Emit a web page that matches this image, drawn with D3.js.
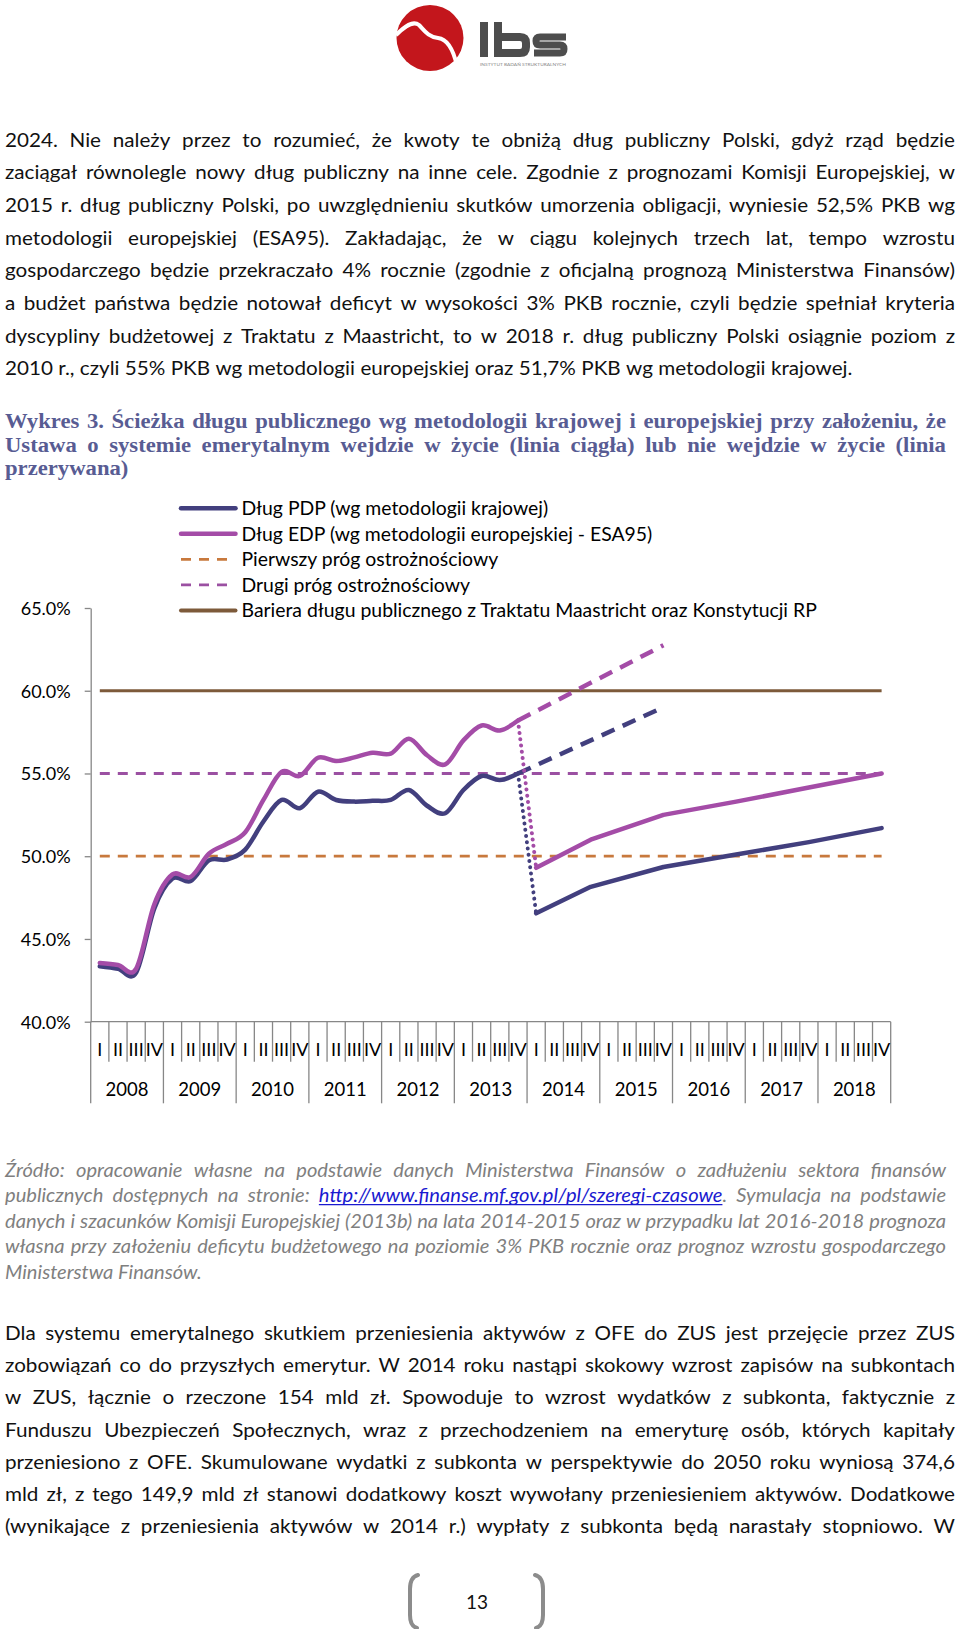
<!DOCTYPE html>
<html>
<head>
<meta charset="utf-8">
<script src="https://cdn.jsdelivr.net/npm/d3@7"></script>
<style>
  html, body { margin: 0; padding: 0; background: #fff; }
  svg { display: block; }
</style>
</head>
<body>
<script>
// ---------------- DATA ----------------
const years = [2008, 2009, 2010, 2011, 2012, 2013, 2014, 2015, 2016, 2017, 2018];
const quarterLabels = ["I", "II", "III", "IV"];
const quarters = years.flatMap(y => quarterLabels.map(q => y + " " + q));

// historical debt (2008 I – 2013 IV), % of GDP
const historyQuarters = quarters.slice(0, 24);
const pdpHistory = [43.35, 43.2, 42.97, 46.85, 48.65, 48.5, 49.75, 49.8, 50.4, 52.1, 53.4, 52.9,
                    53.9, 53.4, 53.3, 53.35, 53.4, 54.0, 53.05, 52.6, 54.0, 54.85, 54.6, 55.0];
const edpHistory = [43.55, 43.43, 43.2, 47.1, 48.9, 48.75, 50.15, 50.75, 51.45, 53.4, 55.1, 54.85,
                    55.95, 55.75, 55.97, 56.25, 56.2, 57.1, 56.1, 55.55, 57.0, 57.9, 57.6, 58.2];

// scenario: the law enters into force (solid lines)
const reformQuarters = ["2014 I", "2014 IV", "2015 IV", "2016 IV", "2017 IV", "2018 IV"];
const pdpReform = [46.55, 48.15, 49.35, 50.1, 50.85, 51.7];
const edpReform = [49.3, 51.0, 52.5, 53.3, 54.15, 55.0];

// scenario: the law does not enter into force (dashed lines)
const noReformQuarters = ["2013 IV", "2015 IV"];
const pdpNoReform = [55.0, 59.0];
const edpNoReform = [58.2, 62.75];

// thresholds
const firstThreshold = 50;
const secondThreshold = 55;
const debtBarrier = 60;

const yTicks = [40, 45, 50, 55, 60, 65];

const legendLabels = [
  "Dług PDP (wg metodologii krajowej)",
  "Dług EDP (wg metodologii europejskiej - ESA95)",
  "Pierwszy próg ostrożnościowy",
  "Drugi próg ostrożnościowy",
  "Bariera długu publicznego z Traktatu Maastricht oraz Konstytucji RP"
];

// ---------------- PAGE TEXT ----------------
const paragraph1 = [
  "2024. Nie należy przez to rozumieć, że kwoty te obniżą dług publiczny Polski, gdyż rząd będzie",
  "zaciągał równolegle nowy dług publiczny na inne cele. Zgodnie z prognozami Komisji Europejskiej, w",
  "2015 r. dług publiczny Polski, po uwzględnieniu skutków umorzenia obligacji, wyniesie 52,5% PKB wg",
  "metodologii europejskiej (ESA95). Zakładając, że w ciągu kolejnych trzech lat, tempo wzrostu",
  "gospodarczego będzie przekraczało 4% rocznie (zgodnie z oficjalną prognozą Ministerstwa Finansów)",
  "a budżet państwa będzie notował deficyt w wysokości 3% PKB rocznie, czyli będzie spełniał kryteria",
  "dyscypliny budżetowej z Traktatu z Maastricht, to w 2018 r. dług publiczny Polski osiągnie poziom z",
  "2010 r., czyli 55% PKB wg metodologii europejskiej oraz 51,7% PKB wg metodologii krajowej."
];
const titleLines = [
  "Wykres 3. Ścieżka długu publicznego wg metodologii krajowej i europejskiej przy założeniu, że",
  "Ustawa o systemie emerytalnym wejdzie w życie (linia ciągła) lub nie wejdzie w życie (linia",
  "przerywana)"
];
const sourceLines = [
  "Źródło: opracowanie własne na podstawie danych Ministerstwa Finansów o zadłużeniu sektora finansów",
  "publicznych dostępnych na stronie: @LINK@. Symulacja na podstawie",
  "danych i szacunków Komisji Europejskiej (2013b) na lata 2014-2015 oraz w przypadku lat 2016-2018 prognoza",
  "własna przy założeniu deficytu budżetowego na poziomie 3% PKB rocznie oraz prognoz wzrostu gospodarczego",
  "Ministerstwa Finansów."
];
const sourceLink = "http://www.finanse.mf.gov.pl/pl/szeregi-czasowe";
const paragraph2 = [
  "Dla systemu emerytalnego skutkiem przeniesienia aktywów z OFE do ZUS jest przejęcie przez ZUS",
  "zobowiązań co do przyszłych emerytur. W 2014 roku nastąpi skokowy wzrost zapisów na subkontach",
  "w ZUS, łącznie o rzeczone 154 mld zł. Spowoduje to wzrost wydatków z subkonta, faktycznie z",
  "Funduszu Ubezpieczeń Społecznych, wraz z przechodzeniem na emeryturę osób, których kapitały",
  "przeniesiono z OFE. Skumulowane wydatki z subkonta w perspektywie do 2050 roku wyniosą 374,6",
  "mld zł, z tego 149,9 mld zł stanowi dodatkowy koszt wywołany przeniesieniem aktywów. Dodatkowe",
  "(wynikające z przeniesienia aktywów w 2014 r.) wypłaty z subkonta będą narastały stopniowo. W"
];
const pageNumber = "13";

// ---------------- DRAWING ----------------
const W = 960, H = 1629;
const SANS = "Lato, 'Noto Sans', 'DejaVu Sans', sans-serif";
const SERIF = "'Liberation Serif', 'DejaVu Serif', serif";

const svg = d3.select("body").append("svg")
  .attr("width", W).attr("height", H)
  .attr("viewBox", `0 0 ${W} ${H}`);

svg.append("rect").attr("width", W).attr("height", H).attr("fill", "#fff");

// text block with word justification
function textBlock(parent, lines, o) {
  const g = parent.append("g");
  const setFont = sel => sel
    .attr("font-family", o.family)
    .attr("font-size", o.size)
    .attr("font-weight", o.weight || "normal")
    .attr("font-style", o.style || "normal")
    .attr("fill", o.fill);
  const tmp = g.append("text").call(setFont).style("white-space", "pre");
  tmp.text("n n"); const a = tmp.node().getComputedTextLength();
  tmp.text("nn"); const b = tmp.node().getComputedTextLength();
  tmp.remove();
  const sp = a - b;

  const built = lines.map((ln, i) => {
    const lg = g.append("g");
    const t = lg.append("text").call(setFont);
    const words = ln.split(" ").map(w => {
      let segs;
      if (w === "@LINK@.") segs = [{ t: o.link, link: true }, { t: "." }];
      else if (w === "@LINK@") segs = [{ t: o.link, link: true }];
      else segs = [{ t: w }];
      const spans = segs.map(s => {
        const tsp = t.append("tspan").text(s.t);
        if (s.link) tsp.attr("fill", o.linkFill);
        return tsp;
      });
      const widths = spans.map(s => s.node().getComputedTextLength());
      return { segs, spans, widths, w: d3.sum(widths) };
    });
    const sum = d3.sum(words, d => d.w);
    const natural = sum + sp * (words.length - 1);
    const justify = o.justify(i, lines.length);
    return { lg, t, words, sum, natural, justify, i };
  });

  let sx = d3.min(built.filter(d => d.justify), d => o.width / d.natural);
  if (sx === undefined) sx = 1;
  sx = Math.max(0.85, Math.min(o.maxScale || 1.06, sx));
  built.forEach(d => {
    if (d.natural * sx > o.width) sx = o.width / d.natural;
  });

  built.forEach(d => {
    const y = o.y0 + d.i * o.dy;
    d.lg.attr("transform", `translate(${o.x},${y}) scale(${sx},1)`);
    const Wl = o.width / sx;
    const gap = d.justify && d.words.length > 1 ? (Wl - d.sum) / (d.words.length - 1) : sp;
    let cur = 0;
    d.words.forEach(w => {
      w.spans[0].attr("x", cur);
      let off = cur;
      w.segs.forEach((s, k) => {
        if (s.link) {
          d.lg.append("line")
            .attr("x1", off).attr("x2", off + w.widths[k])
            .attr("y1", o.size * 0.14).attr("y2", o.size * 0.14)
            .attr("stroke", o.linkFill).attr("stroke-width", 1.2);
        }
        off += w.widths[k];
      });
      cur += w.w + gap;
    });
  });
  return g;
}

// ---- logo ----
const logo = svg.append("g").attr("class", "logo");
logo.append("ellipse").attr("cx", 430).attr("cy", 38).attr("rx", 33.5).attr("ry", 33)
  .attr("fill", "#c3161c");
logo.append("path")
  .attr("d", "M396,35 C405,26 413,20 419,25 C424,30 428,37 438,38 C447,39 453,48 457,66")
  .attr("fill", "none").attr("stroke", "#fff").attr("stroke-width", 4);
const lc = "#4d4d4d";
logo.append("rect").attr("x", 480).attr("y", 22).attr("width", 8).attr("height", 35).attr("fill", lc);
logo.append("rect").attr("x", 494).attr("y", 22).attr("width", 8).attr("height", 35).attr("fill", lc);
logo.append("path").attr("d", "M498,37 H520 Q526,37 526,43 V47 Q526,53 520,53 H498")
  .attr("fill", "none").attr("stroke", lc).attr("stroke-width", 8);
logo.append("path").attr("d", "M566,37 H540 Q536,37 536,41 Q536,45 540,45 H560 Q564,45 564,49 Q564,53 560,53 H534")
  .attr("fill", "none").attr("stroke", lc).attr("stroke-width", 7);
logo.append("text").attr("x", 480).attr("y", 66).attr("font-family", SANS).attr("font-size", 4.5)
  .attr("fill", "#888").attr("textLength", 86).attr("lengthAdjust", "spacingAndGlyphs")
  .text("INSTYTUT BADAŃ STRUKTURALNYCH");

// ---- paragraph 1 ----
textBlock(svg, paragraph1, {
  x: 5, y0: 146.5, dy: 32.7, width: 950, family: SANS, size: 19.5, fill: "#111",
  justify: (i, n) => i < n - 1
});

// ---- title ----
textBlock(svg, titleLines, {
  x: 5, y0: 428, dy: 23.6, width: 941, family: SERIF, size: 21, weight: "bold", fill: "#585c93",
  justify: (i, n) => i < n - 1, maxScale: 1.08
});

// ---- chart ----
const chart = svg.append("g").attr("class", "chart");
const x = d3.scaleBand().domain(quarters).range([90.7, 890.7]);
const xc = q => x(q) + x.bandwidth() / 2;
const xYear = d3.scaleBand().domain(years).range([90.7, 890.7]);
const y = d3.scaleLinear().domain([40, 65]).range([1021.7, 608]);

const axisColor = "#878787";

// y axis
const yAxis = chart.append("g").attr("transform", "translate(90.7,0)")
  .call(d3.axisLeft(y).tickValues(yTicks).tickSize(6).tickSizeOuter(0).tickPadding(14)
    .tickFormat(d => d.toFixed(1) + "%"));
yAxis.select(".domain").attr("stroke", axisColor).attr("stroke-width", 1.3);
yAxis.selectAll(".tick line").attr("stroke", axisColor).attr("stroke-width", 1.3);
yAxis.selectAll(".tick text").attr("font-family", SANS).attr("font-size", 18).attr("fill", "#000")
  .attr("dy", "0.36em");

// x axis (category axis with two levels)
const xAxis = chart.append("g");
xAxis.append("line").attr("x1", x.range()[0]).attr("x2", x.range()[1])
  .attr("y1", y(40)).attr("y2", y(40)).attr("stroke", axisColor).attr("stroke-width", 1.3);
xAxis.selectAll("line.qtick").data(quarters.filter(q => !q.endsWith(" I"))).join("line")
  .attr("class", "qtick")
  .attr("x1", d => x(d)).attr("x2", d => x(d))
  .attr("y1", y(40)).attr("y2", y(40) + 40)
  .attr("stroke", axisColor).attr("stroke-width", 1.3);
xAxis.selectAll("line.ytick").data(years.concat(["end"])).join("line")
  .attr("class", "ytick")
  .attr("x1", d => d === "end" ? x.range()[1] : xYear(d))
  .attr("x2", d => d === "end" ? x.range()[1] : xYear(d))
  .attr("y1", y(40)).attr("y2", y(40) + 81.6)
  .attr("stroke", axisColor).attr("stroke-width", 1.3);
xAxis.selectAll("text.qlab").data(quarters).join("text")
  .attr("class", "qlab")
  .attr("x", d => xc(d)).attr("y", 1049.5).attr("dy", "0.36em")
  .attr("text-anchor", "middle").attr("font-family", SANS).attr("font-size", 18).attr("fill", "#000")
  .text(d => d.split(" ")[1]);
xAxis.selectAll("text.ylab").data(years).join("text")
  .attr("class", "ylab")
  .attr("x", d => xYear(d) + xYear.bandwidth() / 2).attr("y", 1089.5).attr("dy", "0.36em")
  .attr("text-anchor", "middle").attr("font-family", SANS).attr("font-size", 18.5).attr("fill", "#000")
  .text(d => d);

// colours
const cPDP = "#423f7e";
const cEDP = "#a44ca7";
const cFirst = "#c8793d";
const cSecond = "#9b50a2";
const cBarrier = "#7d5a3a";

const x0 = xc(quarters[0]), x1 = xc(quarters[quarters.length - 1]);
// thresholds and barrier
chart.append("line").attr("x1", x0).attr("x2", x1).attr("y1", y(firstThreshold)).attr("y2", y(firstThreshold))
  .attr("stroke", cFirst).attr("stroke-width", 2.8).attr("stroke-dasharray", "10,8");
chart.append("line").attr("x1", x0).attr("x2", x1).attr("y1", y(secondThreshold)).attr("y2", y(secondThreshold))
  .attr("stroke", cSecond).attr("stroke-width", 2.8).attr("stroke-dasharray", "10,8");
chart.append("line").attr("x1", x0).attr("x2", x1).attr("y1", y(debtBarrier)).attr("y2", y(debtBarrier))
  .attr("stroke", cBarrier).attr("stroke-width", 3.2);

const smooth = d3.line().x(d => xc(d.q)).y(d => y(d.v)).curve(d3.curveCatmullRom.alpha(0));
const straight = d3.line().x(d => xc(d.q)).y(d => y(d.v));
const zip = (qs, vs) => qs.map((q, i) => ({ q, v: vs[i] }));

// no-reform projections (dashed)
[[pdpNoReform, cPDP], [edpNoReform, cEDP]].forEach(([vals, c]) => {
  chart.append("path").datum(zip(noReformQuarters, vals)).attr("d", straight)
    .attr("fill", "none").attr("stroke", c).attr("stroke-width", 4.5)
    .attr("stroke-dasharray", "14,9");
});

// drop (dotted) from last history to first reform value
[[pdpHistory, pdpReform, cPDP], [edpHistory, edpReform, cEDP]].forEach(([h, r, c]) => {
  const pts = [{ q: historyQuarters[historyQuarters.length - 1], v: h[h.length - 1] },
               { q: reformQuarters[0], v: r[0] }];
  chart.append("path").datum(pts).attr("d", straight)
    .attr("fill", "none").attr("stroke", c).attr("stroke-width", 4)
    .attr("stroke-linecap", "round").attr("stroke-dasharray", "0.01,6.3");
});

// reform projections (solid)
[[pdpReform, cPDP], [edpReform, cEDP]].forEach(([vals, c]) => {
  chart.append("path").datum(zip(reformQuarters, vals)).attr("d", straight)
    .attr("fill", "none").attr("stroke", c).attr("stroke-width", 4.5)
    .attr("stroke-linecap", "round").attr("stroke-linejoin", "round");
});

// history (solid, smoothed)
[[pdpHistory, cPDP], [edpHistory, cEDP]].forEach(([vals, c]) => {
  chart.append("path").datum(zip(historyQuarters, vals)).attr("d", smooth)
    .attr("fill", "none").attr("stroke", c).attr("stroke-width", 4.5)
    .attr("stroke-linecap", "round").attr("stroke-linejoin", "round");
});

// legend
const legendStyles = [
  { c: cPDP, w: 4.5, dash: null },
  { c: cEDP, w: 4.5, dash: null },
  { c: cFirst, w: 2.8, dash: "10,8" },
  { c: cSecond, w: 2.8, dash: "10,8" },
  { c: cBarrier, w: 4, dash: null }
];
const legend = chart.append("g");
const rows = legend.selectAll("g").data(legendLabels).join("g")
  .attr("transform", (d, i) => `translate(0,${508.3 + i * 25.55})`);
rows.append("line")
  .attr("x1", 181).attr("x2", (d, i) => legendStyles[i].dash ? 227 : 235.5)
  .attr("y1", 0).attr("y2", 0)
  .attr("stroke", (d, i) => legendStyles[i].c)
  .attr("stroke-width", (d, i) => legendStyles[i].w)
  .attr("stroke-dasharray", (d, i) => legendStyles[i].dash)
  .attr("stroke-linecap", (d, i) => legendStyles[i].dash ? "butt" : "round");
rows.append("text").attr("x", 241.5).attr("dy", "0.36em")
  .attr("font-family", SANS).attr("font-size", 19.4).attr("fill", "#000")
  .text(d => d);

// ---- source ----
textBlock(svg, sourceLines, {
  x: 5, y0: 1176.5, dy: 25.6, width: 941, family: SANS, size: 18.3, style: "italic", fill: "#7f7f7f",
  link: sourceLink, linkFill: "#1a1ad0",
  justify: (i, n) => i < n - 1, maxScale: 1.1
});

// ---- paragraph 2 ----
textBlock(svg, paragraph2, {
  x: 5, y0: 1340, dy: 32.2, width: 950, family: SANS, size: 19.5, fill: "#111",
  justify: () => true
});

// ---- page number ----
const pn = svg.append("g");
pn.append("path").attr("d", "M418,1575 Q410,1577 410,1589 V1615 Q410,1626 417,1628")
  .attr("fill", "none").attr("stroke", "#8c8c8c").attr("stroke-width", 4).attr("stroke-linecap", "round");
pn.append("path").attr("d", "M535,1575 Q543,1577 543,1589 V1615 Q543,1626 536,1628")
  .attr("fill", "none").attr("stroke", "#8c8c8c").attr("stroke-width", 4).attr("stroke-linecap", "round");
pn.append("text").attr("x", 477).attr("y", 1609).attr("text-anchor", "middle")
  .attr("font-family", SANS).attr("font-size", 19).attr("fill", "#111").text(pageNumber);
</script>
</body>
</html>
